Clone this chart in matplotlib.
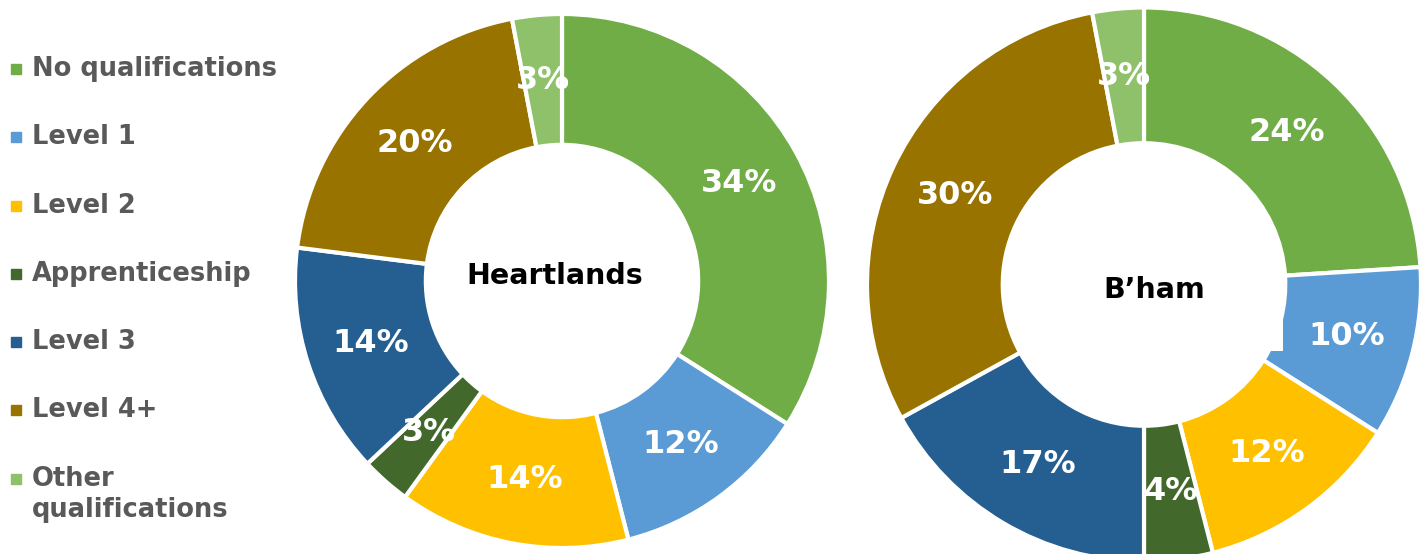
import matplotlib
matplotlib.use("Agg")
import matplotlib.pyplot as plt
from matplotlib.patches import Rectangle

categories = ["No qualifications", "Level 1", "Level 2", "Apprenticeship",
              "Level 3", "Level 4+", "Other\nqualifications"]
heartlands = [34, 12, 14, 3, 14, 20, 3]
bham = [24, 10, 12, 4, 17, 30, 3]
colors = ["#70AD47", "#5B9BD5", "#FFC000", "#43682B", "#255E91", "#997300", "#8FC16A"]

W, H = 1426, 554
plt.rcParams['font.family'] = ['DejaVu Sans']
fig = plt.figure(figsize=(W / 100, H / 100), dpi=100)


def donut(cx, cy, r, values, title, tx, ty):
    # cx, cy, r in pixels (y from top)
    ax = fig.add_axes([(cx - r) / W, (H - cy - r) / H, 2 * r / W, 2 * r / H])
    wedges, _, autotexts = ax.pie(
        values, colors=colors, startangle=90, counterclock=False,
        autopct=lambda p: f"{p:.0f}%", pctdistance=0.755,
        wedgeprops=dict(width=0.49, edgecolor="white", linewidth=3))
    for t in autotexts:
        t.set_color("white")
        t.set_fontsize(23)
        t.set_fontweight("bold")
    ax.set_xlim(-1, 1)
    ax.set_ylim(-1, 1)
    ax.set_aspect("equal")
    ax.axis("off")
    # centre label, positioned in pixel offsets from centre
    ax.text((tx - cx) / r, (cy - ty) / r, title, ha="center", va="center",
            fontsize=20.5, fontweight="bold", color="black")
    return ax


donut(562, 281, 267, heartlands, "Heartlands", 555, 276)
ax2 = donut(1144, 284.5, 277, bham, "B\u2019ham", 1154, 290)
# white text box behind the B'ham label that overlaps the ring
r2 = 277
ax2.add_patch(Rectangle(((1045 - 1144) / r2, (284.5 - 351) / r2),
                        (1283 - 1045) / r2, (351 - 270) / r2,
                        facecolor="white", edgecolor="none", zorder=2))
ax2.texts[-1].set_zorder(3)

# legend
lax = fig.add_axes([0, 0, 290 / W, 1])
lax.set_xlim(0, 290)
lax.set_ylim(H, 0)
lax.axis("off")
rows = [69, 137, 206, 274, 342, 410, 479]
for y, lab, c in zip(rows, categories, colors):
    lax.plot([16], [y], marker="s", markersize=7, color=c, linestyle="none")
    lax.text(32, y, lab, ha="left", va="top" if "\n" in lab else "center",
             fontsize=18.5, fontweight="bold", color="#595959",
             linespacing=1.25)
# two-line entry: align first line with its marker
lax.texts[-1].set_y(479 - 13)

fig.savefig("out.png", dpi=100)
